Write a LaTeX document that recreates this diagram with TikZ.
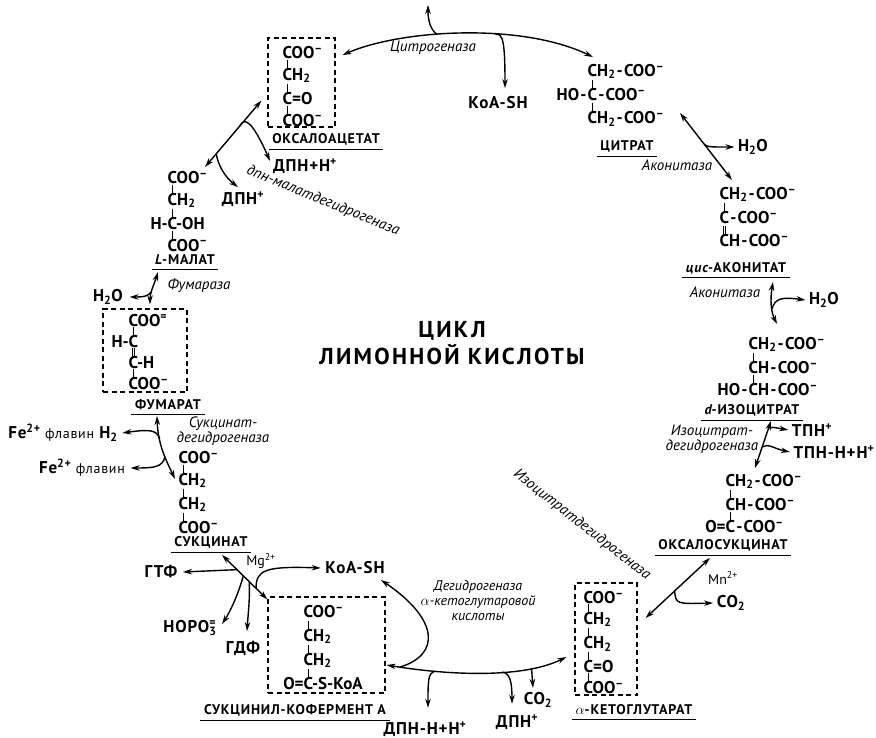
\documentclass[tikz,border=0pt]{standalone}
\usepackage{fontspec}
\setmainfont{PT Sans}
\usetikzlibrary{arrows.meta}
\newcommand\bnd{\makebox[0pt][l]{\hspace{0.27em}\rule[0.66em]{1pt}{0.55em}}}
\newcommand\dbnd{\makebox[0pt][l]{\hspace{0.18em}\rule[0.66em]{0.8pt}{0.55em}\hspace{1.8pt}\rule[0.66em]{0.8pt}{0.55em}}}
\newcommand\mi{\textsuperscript{--}}
\newcommand\tw{\textsubscript{2}}
\newcommand\hb{\kern1.2pt-\kern1.2pt}

\begin{document}
\begin{tikzpicture}[x=1pt,y=-1pt,>={Stealth[length=9pt,width=5.5pt]},line width=1.4pt]
\tikzset{chem/.style={font={\fontsize{17}{#1}\selectfont\bfseries},align=left,inner sep=0pt,anchor=north west},chem/.default=21,
  dbox/.style={draw,line width=1.2pt,dash pattern=on 5pt off 3.5pt,inner sep=0pt},
  cname/.style={font={\fontsize{14}{16}\selectfont\bfseries\addfontfeature{LetterSpace=6}},inner xsep=3pt,inner ysep=3.5pt,
    append after command={(\tikzlastnode.south west) edge[line width=1pt] (\tikzlastnode.south east)}},
  enz/.style={font={\fontsize{15}{15}\selectfont\itshape},align=center,inner sep=0pt},
  subs/.style={font={\fontsize{17}{20}\selectfont\bfseries\addfontfeature{LetterSpace=5}},inner sep=0pt},
  smsubs/.style={font={\fontsize{14}{16}\selectfont},inner sep=0pt}}
\useasboundingbox (0,0) rectangle (876,738);

\node[chem=20] (oaa) at (282,45.5) {COO\mi\\\bnd CH\tw\\\bnd C=O\\\bnd COO\mi};
\node[chem=23] (cit) at (587,63.5) {CH\tw\hb COO\mi\\\llap{HO\hb}\bnd C\hb COO\mi\\\bnd CH\tw\hb COO\mi};
\node[chem=23] (cisac) at (719,186.5) {CH\tw\hb COO\mi\\\bnd C\hb COO\mi\\\dbnd CH\hb COO\mi};
\node[chem=22] (icit) at (748,336.5) {CH\tw\hb COO\mi\\\bnd CH\hb COO\mi\\\llap{HO\hb}\bnd CH\hb COO\mi};
\node[chem=20] (osuc) at (725,473.5) {CH\tw\hb COO\mi\\\bnd CH\hb COO\mi\\\llap{O=}\bnd C\hb COO\mi};
\node[chem=21] (akg) at (583,590.5) {COO\mi\\\bnd CH\tw\\\bnd CH\tw\\\bnd C=O\\\bnd COO\mi};
\node[chem=24] (scoa) at (303,604.5) {COO\mi\\\bnd CH\tw\\\bnd CH\tw\\\llap{O=}\bnd C-S-КоА};
\node[chem=20] (suc) at (178,450.5) {COO\mi\\\bnd CH\tw\\\bnd CH\tw\\\bnd COO\mi};
\node[chem=21] (fum) at (128,313.5) {COO\textsuperscript{=}\\\llap{H-}\bnd C\\\dbnd C-H\\\bnd COO\mi};
\node[chem=20] (mal) at (167,170.5) {COO\mi\\\bnd CH\tw\\\llap{H-}\bnd C-OH\\\bnd COO\mi};

\node[dbox,minimum width=67pt,minimum height=89pt] (oaabox) at (301.5,82.5) {};
\node[dbox,minimum width=62pt,minimum height=112pt] (akgbox) at (606,639) {};
\node[dbox,minimum width=117pt,minimum height=96pt] (scoabox) at (326.5,645) {};
\node[dbox,minimum width=84pt,minimum height=83pt] (fumbox) at (145,350.5) {};

\node[cname] (oaan) at (326,139) {ОКСАЛОАЦЕТАТ};
\node[cname] (citn) at (627,146) {ЦИТРАТ};
\node[cname] (cisacn) at (736,268) {{\itshape цис}-АКОНИТАТ};
\node[cname] (icitn) at (752,410) {{\itshape d}-ИЗОЦИТРАТ};
\node[cname] (osucn) at (723,545) {ОКСАЛОСУКЦИНАТ};
\node[cname] (akgn) at (634,710) {$\alpha$-КЕТОГЛУТАРАТ};
\node[cname] (scoan) at (295,710) {СУКЦИНИЛ-КОФЕРМЕНТ А};
\node[cname] (sucn) at (211,542) {СУКЦИНАТ};
\node[cname] (fumn) at (168,405) {ФУМАРАТ};
\node[cname] (maln) at (185,260) {{\itshape L}-МАЛАТ};

\node[enz] (cs) at (433,48) {Цитрогеназа};
\node[enz] (acn1) at (677,165) {Аконитаза};
\node[enz] (acn2) at (725,292) {Аконитаза};
\node[enz] (idh1) at (712,439) {Изоцитрат-\\дегидрогеназа};
\node[enz,rotate=-38] (idh2) at (582,525) {Изоцитратдегидрогеназа};
\node[enz,font={\fontsize{14}{15}\selectfont\itshape}] (kgdh) at (478,601) {Дегидрогеназа\\$\alpha$-кетоглутаровой\\кислоты};
\node[enz] (sdh) at (223,431) {Сукцинат-\\дегидрогеназа};
\node[enz] (fh) at (199,286) {Фумараза};
\node[enz,rotate=-22] (mdh) at (323,201) {дпн-малатдегидрогеназа};

\node[subs] (coa1) at (498,103) {КоА-SH};
\node[subs] (w1) at (753,147) {H\tw O};
\node[subs] (w2) at (824,300) {H\tw O};
\node[subs] (tpn) at (812,430) {ТПН\textsuperscript{+}};
\node[subs] (tpnh) at (834,452) {ТПН-Н+Н\textsuperscript{+}};
\node[smsubs] (mn) at (723,578) {Mn\textsuperscript{2+}};
\node[subs] (co2a) at (731,603) {CO\tw};
\node[subs] (co2b) at (538,700) {CO\tw};
\node[subs] (dpn1) at (517,722) {ДПН\textsuperscript{+}};
\node[subs] (dpnh1) at (425,729) {ДПН-Н+Н\textsuperscript{+}};
\node[subs] (coa2) at (355,568) {КоА-SH};
\node[subs] (gtp) at (161,572) {ГТФ};
\node[smsubs] (mg) at (261,561) {Mg\textsuperscript{2+}};
\node[subs] (pi) at (190,628) {HOPO\rlap{\textsuperscript{=}}\textsubscript{3}};
\node[subs] (gdp) at (243,648) {ГДФ};
\node[subs] (flh) at (63,433) {Fe\textsuperscript{2+}{\mdseries\fontsize{14}{16}\selectfont\ флавин} H\tw};
\node[subs] (fl) at (82,468) {Fe\textsuperscript{2+}{\mdseries\fontsize{14}{16}\selectfont\ флавин}};
\node[subs] (w3) at (108,297) {H\tw O};
\node[subs] (dpn2) at (243,199) {ДПН\textsuperscript{+}};
\node[subs] (dpnh2) at (305,166) {ДПН+Н\textsuperscript{+}};

\node[font={\fontsize{23}{27}\selectfont\bfseries\addfontfeature{LetterSpace=10}},align=center] (title) at (452,343) {ЦИКЛ\\ЛИМОННОЙ КИСЛОТЫ};

\draw[<->] ([shift={(7,-27.5)}]oaabox.east) .. controls (400,30) and (520,22) .. ([shift={(6,-6.5)}]cit.north west)
  coordinate[pos=0.41] (j1) coordinate[pos=0.62] (j2);
\coordinate (acin) at (428,5);
\draw[->] (j1) .. controls (431,30) and (428,22) .. (acin);
\draw[->] (j2) .. controls (503,33) and (505,42) .. ([shift={(7,-8)}]coa1.north);

\draw[<->] ([shift={(93,49.5)}]cit.north west) -- ([shift={(13,-6.5)}]cisac.north west) coordinate[pos=0.47] (j3);
\draw[->] (j3) .. controls (708,147) .. ([xshift=-3]w1.west);

\draw[<->] ([shift={(37,14)}]cisacn.center) .. controls (770,300) and (771,312) .. ([shift={(29,-12.5)}]icit.north west);
\coordinate (j4) at (772,309);
\draw[->] (j4) .. controls (775,298) and (782,297) .. ([xshift=-3]w2.west);

\draw[<->] ([shift={(19,11)}]icitn.center) -- ([shift={(30,-5.5)}]osuc.north west) coordinate[pos=0.15] (j5) coordinate[pos=0.55] (j6);
\draw[->] (j5) .. controls (772,427) .. ([xshift=-3]tpn.west);
\draw[->] (j6) .. controls (768,443) and (775,449) .. ([xshift=-3]tpnh.west);

\draw[<->] ([shift={(-13,13)}]osucn.center) -- ([shift={(8,-21)}]akgbox.east) coordinate[pos=0.55] (j7);
\draw[->] (j7) .. controls (676,604) .. ([xshift=-3]co2a.west);

\draw[<->] ([shift={(1,20)}]scoabox.east) .. controls (440,674) and (520,680) .. ([shift={(-8,18)}]akgbox.west)
  coordinate[pos=0.08] (j8) coordinate[pos=0.27] (j9) coordinate[pos=0.62] (j10) coordinate[pos=0.78] (j11);
\draw[->] (j8) .. controls (440,655) and (440,620) .. ([shift={(26,12)}]coa2.center);
\draw[->] (j9) .. controls (428,673) and (428,682) .. ([shift={(3,-13)}]dpnh1.north);
\draw[->] (j10) .. controls (510,673) and (512,682) .. ([shift={(-5,-10)}]dpn1.north);
\draw[->] (j11) -- ([shift={(-5,-4)}]co2b.north);

\draw[<->] ([shift={(11,13)}]sucn.center) -- ([shift={(0,3)}]scoabox.north west)
  coordinate[pos=0.33] (j12) coordinate[pos=0.47] (j13) coordinate[pos=0.6] (j14) coordinate[pos=0.75] (j15);
\draw[->] (j12) -- ([xshift=5]gtp.east);
\draw[->] (j13) .. controls (238,595) and (230,612) .. ([shift={(32,-4)}]pi.center);
\draw[->] (j14) .. controls (250,600) and (248,615) .. ([shift={(4,-9)}]gdp.north);
\draw[->] (j15) .. controls (256,570) and (265,566) .. ([xshift=-4]coa2.west);

\draw[<->] ([shift={(-11,11)}]fumn.center) .. controls (158,445) and (166,460) .. ([shift={(-3,28.5)}]suc.north west)
  coordinate[pos=0.3] (j16) coordinate[pos=0.6] (j17);
\draw[->] (j16) .. controls (157,430) and (150,429) .. ([xshift=4]flh.east);
\draw[->] (j17) .. controls (162,467) and (155,468) .. ([xshift=5]fl.east);

\draw[<->] ([shift={(-27,12)}]maln.center) .. controls (154,285) and (150,292) .. ([shift={(5,-4)}]fumbox.north) coordinate[pos=0.6] (j18);
\draw[->] (j18) .. controls (148,297) and (142,297) .. ([xshift=6]w3.east);

\draw[<->] ([shift={(-6,-27)}]oaabox.south west) -- ([shift={(38,-3.5)}]mal.north west) coordinate[pos=0.38] (j19) coordinate[pos=0.8] (j20);
\draw[->] (j19) .. controls (244,117) and (252,120) .. ([shift={(-35,-5)}]dpnh2.center);
\draw[->] (j20) .. controls (218,166) and (226,178) .. ([shift={(-5,-12)}]dpn2.center);
\end{tikzpicture}
\end{document}
